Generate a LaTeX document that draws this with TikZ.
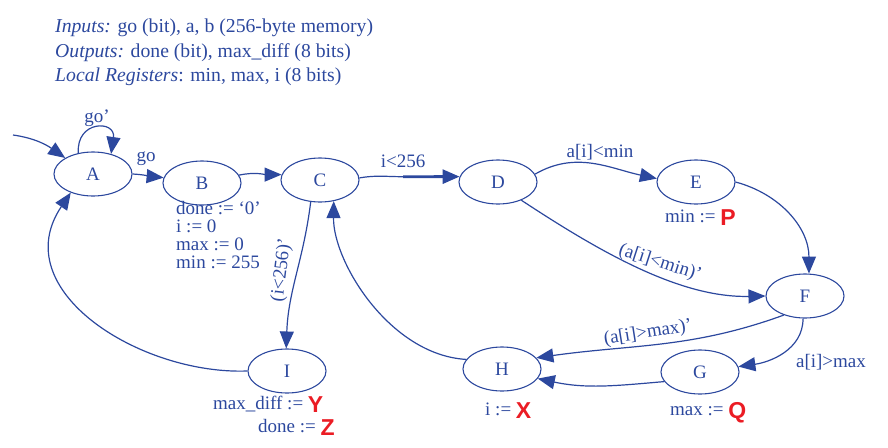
\documentclass[tikz,border=0pt]{standalone}
\usepackage{fontspec}
\setmainfont{Liberation Serif}
\newfontfamily\redsans{Liberation Sans}
\usetikzlibrary{shapes.geometric,arrows.meta}
\definecolor{fsm}{RGB}{44,72,158}
\definecolor{redq}{RGB}{235,28,36}
\newcommand{\rv}[1]{\lower3.5pt\hbox{\redsans\bfseries\fontsize{23}{23}\selectfont\color{redq}#1}}
\begin{document}
\begin{tikzpicture}[x=1pt,y=1pt,
  state/.style={ellipse,draw=fsm,line width=1.1pt,minimum width=78pt,minimum height=44pt,inner sep=0pt,text=fsm,font=\fontsize{19}{19}\selectfont},
  edge/.style={draw=fsm,line width=1.2pt,-{Triangle[length=17pt,width=14pt]}},
  plain/.style={draw=fsm,line width=1.2pt},
  lbl/.style={text=fsm,font=\fontsize{19}{19}\selectfont,inner sep=0pt},
  hdr/.style={text=fsm,font=\fontsize{19.7}{19.7}\selectfont,inner sep=0pt,anchor=base west},
]
\useasboundingbox (0,0) rectangle (888,-447);

% header
\node[hdr] (hin) at (55,-32) {\textit{Inputs:} go (bit), a, b (256-byte memory)};
\node[hdr] (hout) at (55,-57) {\textit{Outputs:} done (bit), max\_diff (8 bits)};
\node[hdr] (hloc) at (55,-81) {\textit{Local Registers}: min, max, i (8 bits)};

% states
\node[state] (A) at (93,-174) {A};
\node[state] (B) at (202,-183) {B};
\node[state] (C) at (320,-180) {C};
\node[state] (D) at (498,-182) {D};
\node[state] (E) at (696,-182) {E};
\node[state] (F) at (805,-296) {F};
\node[state] (G) at (700,-372) {G};
\node[state] (H) at (502,-369) {H};
\node[state] (I) at (287,-371) {I};

% state actions
\node[lbl,anchor=base west] (b1) at (176,-214) {done := ‘0’};
\node[lbl,anchor=base west] (b2) at (176,-232) {i := 0};
\node[lbl,anchor=base west] (b3) at (176,-250) {max := 0};
\node[lbl,anchor=base west] (b4) at (176,-268) {min := 255};
\node[lbl,anchor=base west] (e1) at (665,-222) {min := \rv{P}};
\node[lbl,anchor=base west] (h1) at (485,-415) {i := \rv{X}};
\node[lbl,anchor=base west] (g1) at (670,-415) {max := \rv{Q}};
\node[lbl,anchor=base west] (i1) at (213,-409) {max\_diff := \rv{Y}};
\node[lbl,anchor=base west] (i2) at (258,-432) {done := \rv{Z}};

% transitions
\coordinate (s0) at (13,-135);
\draw[edge] (s0) to[out=-8,in=145] (A.150);
\draw[edge] (A.125) .. controls (76,-120) and (116,-120) .. (A.48);
\node[lbl] (lgo1) at (97,-118) {go’};
\draw[edge] (A.east) to[out=-3,in=175] (B.172);
\node[lbl] (lgo) at (146,-159) {go};
\draw[edge] (B.12) to[out=12,in=180] (C.172);
\coordinate (cdm) at (403,-176.7);
\draw[plain] (C.3) to[out=10,in=180] (cdm);
\draw[edge,line width=2.8pt] (cdm) -- (D.172);
\node[lbl] (lc) at (403,-161) {i<256};
\draw[edge] (D.12) to[out=30,in=168] (E.175);
\node[lbl] (lde) at (600,-152) {a[i]<min};
\draw[edge] (D.-38) .. controls (600,-252) and (680,-298) .. (F.180);
\node[lbl,rotate=-18] (ldf) at (660,-263) {(a[i]<min)’};
\draw[edge] (E.east) to[out=-15,in=90] (F.80);
\draw[edge] (F.265) to[out=-90,in=8] (G.8);
\node[lbl] (lfg) at (831,-362) {a[i]>max};
\draw[edge] (F.222) to[out=200,in=8] (H.18);
\node[lbl,rotate=9] (lfh) at (648,-333) {(a[i]>max)’};
\draw[edge] (G.195) to[out=185,in=-12] (H.-15);
\draw[edge] (H.165) .. controls (390,-355) and (333,-262) .. (C.-57);
\draw[edge] (C.-113) to[out=-97,in=88] (I.92);
\node[lbl,rotate=83] (lci) at (282,-270) {(i<256)’};
\draw[edge] (I.180) .. controls (140,-375) and (5,-290) .. (A.-140);
\end{tikzpicture}
\end{document}
